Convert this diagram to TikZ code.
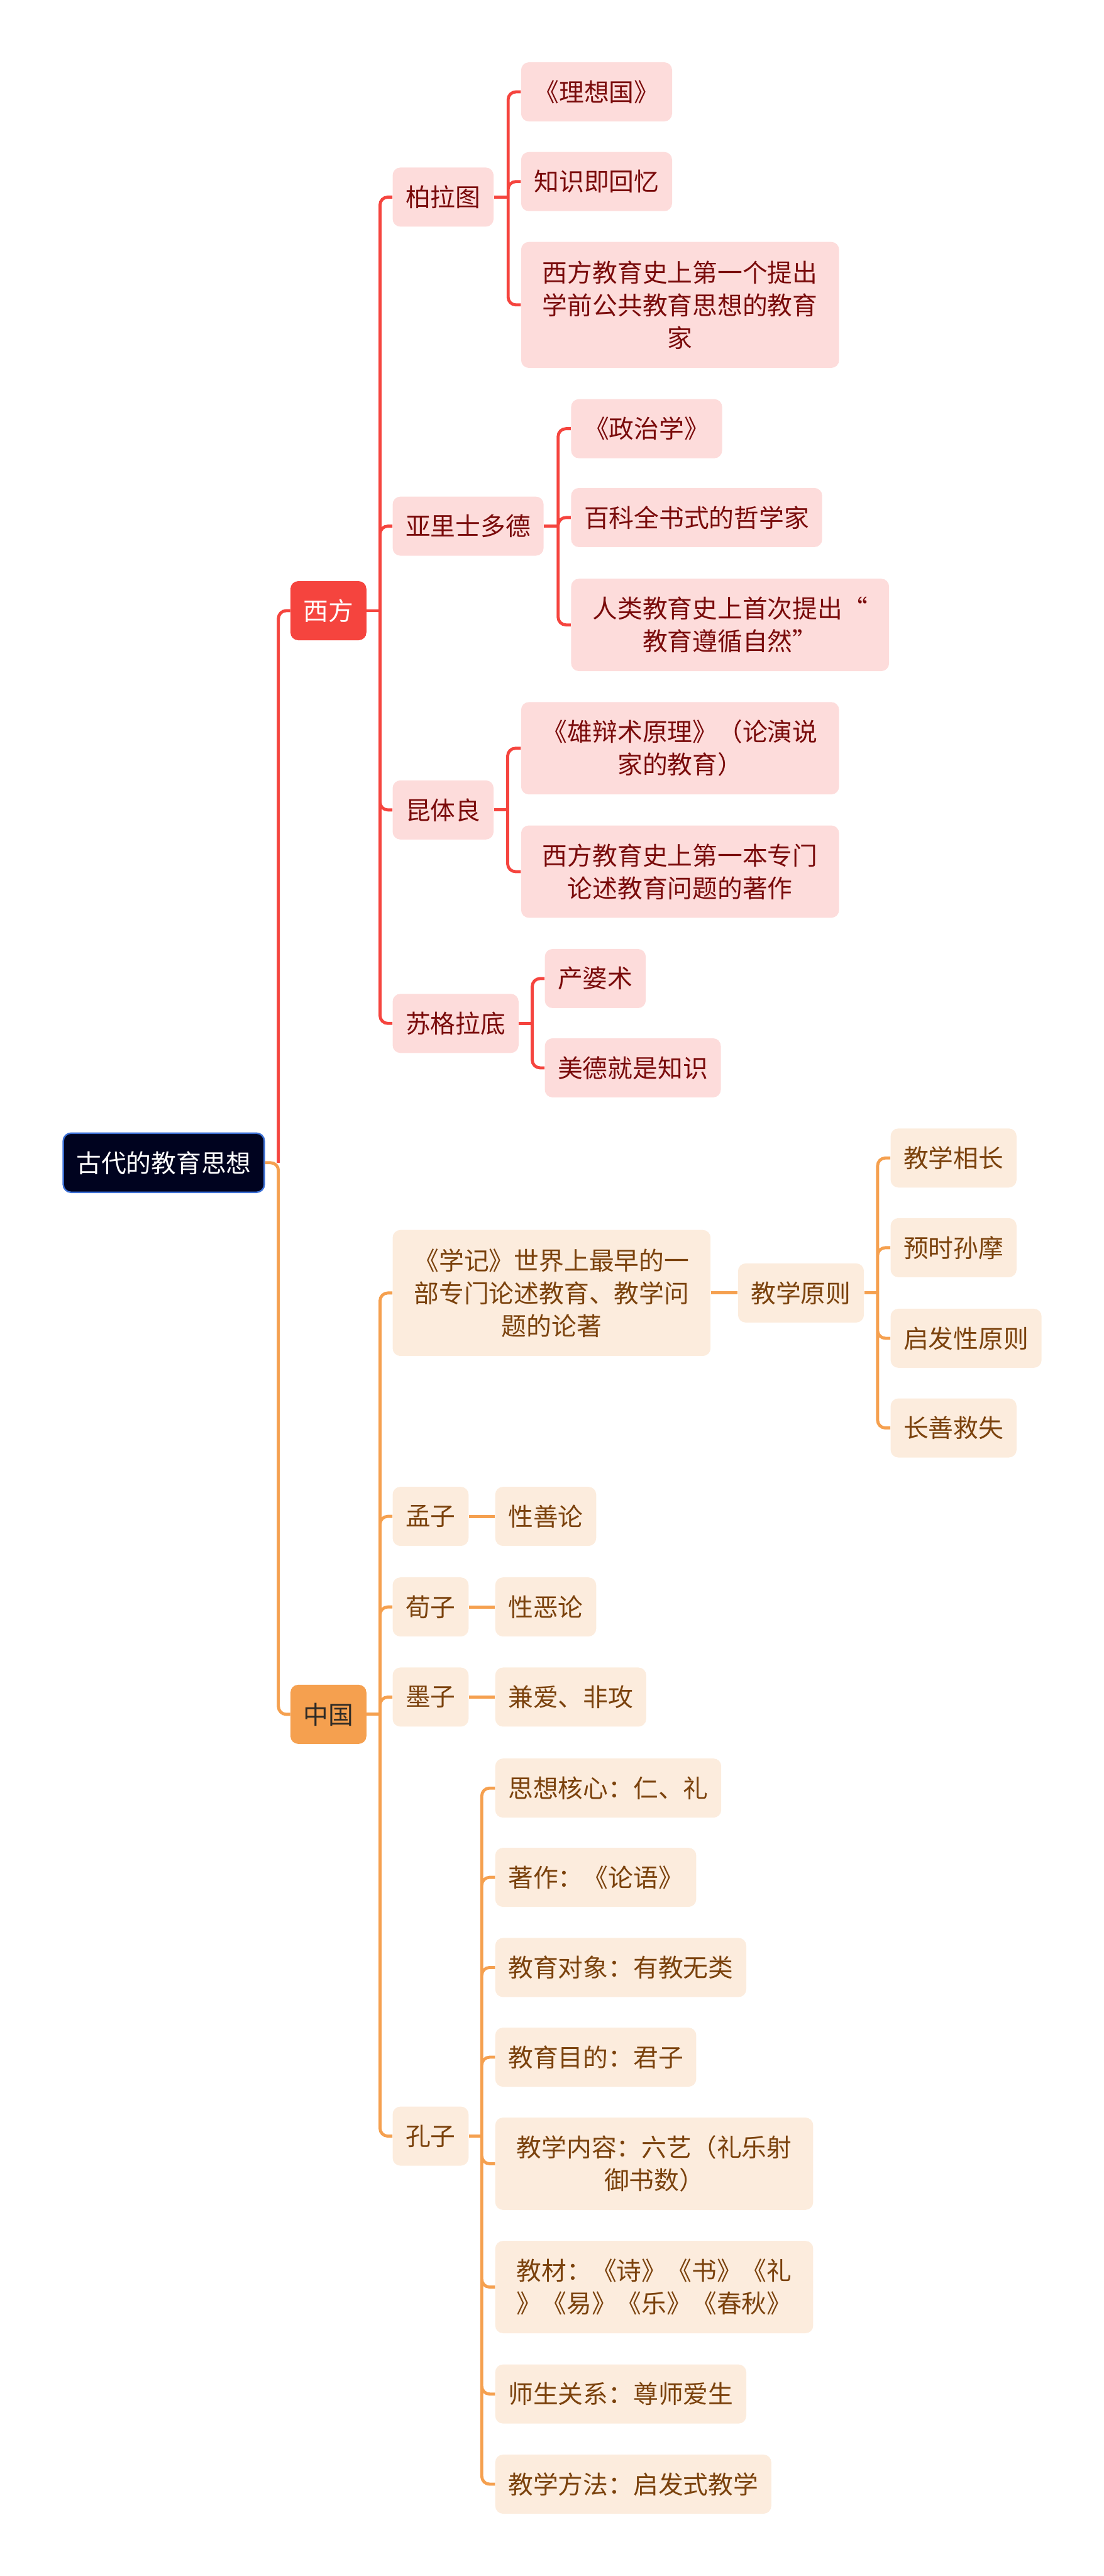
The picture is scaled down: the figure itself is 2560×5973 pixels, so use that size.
\documentclass[tikz,border=0pt]{standalone}
\usepackage{fontspec}
\setmainfont{Noto Sans CJK SC}
\usepackage{xcolor}
\usetikzlibrary{positioning}
\definecolor{rootblue}{HTML}{00031F}
\definecolor{rootedge}{HTML}{3B6FD4}
\definecolor{westred}{HTML}{F5443E}
\definecolor{westpink}{HTML}{FDDCDB}
\definecolor{westtext}{HTML}{7A0B0B}
\definecolor{eastorange}{HTML}{F5A04F}
\definecolor{eastpeach}{HTML}{FCECDD}
\definecolor{easttext}{HTML}{7B420D}
\definecolor{easthead}{HTML}{2D2A26}
\tikzstyle{redline} = [westred, line width=2pt, rounded corners=0.18cm]
\tikzstyle{orgline} = [eastorange, line width=2pt, rounded corners=0.18cm]

\begin{document}
\begin{tikzpicture}[x=0.01cm, y=-0.01cm,
		box/.style = {rounded corners=0.18cm, anchor=west, minimum height=1.37cm,
			inner xsep=0.3cm, inner ysep=0pt, font=\fontsize{16.5pt}{21.6pt}\selectfont},
		wbox/.style = {box, fill=westpink, text=westtext},
		cbox/.style = {box, fill=eastpeach, text=easttext},
		wide/.style = {align=center, minimum width=7.37cm},
		two/.style = {minimum height=2.14cm},
		three/.style = {minimum height=2.92cm}]

		\useasboundingbox (0,0) rectangle (2560,5973);

		% Root
		\node[box,fill=rootblue,draw=rootedge,line width=1pt,text=white] (root) at (145,2696) {古代的教育思想};

		% Main branches
		\node[box,fill=westred,text=white] (west) at (673,1416) {西方};
		\node[box,fill=eastorange,text=easthead] (china) at (673,3975) {中国};

		% Western thinkers
		\node[wbox] (plato) at (910,457) {柏拉图};
		\node[wbox] (arist) at (910,1220) {亚里士多德};
		\node[wbox] (quint) at (910,1878) {昆体良};
		\node[wbox] (socr) at (910,2373) {苏格拉底};

		\node[wbox] (ideal) at (1208,213) {《理想国》};
		\node[wbox] (recall) at (1208,421) {知识即回忆};
		\node[wbox,wide,three] (prek) at (1208,707) {西方教育史上第一个提出\\学前公共教育思想的教育\\家};

		\node[wbox] (polit) at (1324,994) {《政治学》};
		\node[wbox] (encyc) at (1324,1200) {百科全书式的哲学家};
		\node[wbox,wide,two] (nature) at (1324,1449) {人类教育史上首次提出“\\教育遵循自然”};

		\node[wbox,wide,two] (orator) at (1208,1735) {《雄辩术原理》（论演说\\家的教育）};
		\node[wbox,wide,two] (firstbk) at (1208,2021) {西方教育史上第一本专门\\论述教育问题的著作};

		\node[wbox] (midwife) at (1263,2269) {产婆术};
		\node[wbox] (virtue) at (1263,2476) {美德就是知识};

		% Chinese thinkers
		\node[cbox,wide,three] (xueji) at (910,2998) {《学记》世界上最早的一\\部专门论述教育、教学问\\题的论著};
		\node[cbox] (mencius) at (910,3516) {孟子};
		\node[cbox] (xunzi) at (910,3726) {荀子};
		\node[cbox] (mozi) at (910,3935) {墨子};
		\node[cbox] (confu) at (910,4953) {孔子};

		\node[cbox] (princ) at (1711,2998) {教学原则};
		\node[cbox] (mutual) at (2065,2685) {教学相长};
		\node[cbox] (timely) at (2065,2893) {预时孙摩};
		\node[cbox] (heur) at (2065,3103) {启发性原则};
		\node[cbox] (remedy) at (2065,3311) {长善救失};

		\node[cbox] (good) at (1148,3516) {性善论};
		\node[cbox] (evil) at (1148,3726) {性恶论};
		\node[cbox] (love) at (1148,3935) {兼爱、非攻};

		\node[cbox] (core) at (1148,4146) {思想核心：仁、礼};
		\node[cbox] (works) at (1148,4353) {著作：《论语》};
		\node[cbox] (target) at (1148,4562) {教育对象：有教无类};
		\node[cbox] (aim) at (1148,4770) {教育目的：君子};
		\node[cbox,wide,two] (content) at (1148,5017) {教学内容：六艺（礼乐射\\御书数）};
		\node[cbox,wide,two] (texts) at (1148,5303) {教材：《诗》《书》《礼\\》《易》《乐》《春秋》};
		\node[cbox] (teach) at (1148,5551) {师生关系：尊师爱生};
		\node[cbox] (method) at (1148,5760) {教学方法：启发式教学};

		% Root connectors
		\coordinate (rootT) at ([xshift=0.31cm]root.east);
		\draw[redline] (rootT) |- (west.west);
		\draw[orgline] (root.east) -- (rootT) |- (china.west);

		% West connectors
		\draw[redline] (west.east) -- ++(31,0) coordinate (westT);
		\draw[redline] (westT) |- (plato.west) (westT) |- (arist.west)
			(westT) |- (quint.west) (westT) |- (socr.west);

		\draw[redline] (plato.east) -- ++(33,0) coordinate (platoT);
		\draw[redline] (platoT) |- (ideal.west) (platoT) |- (recall.west) (platoT) |- (prek.west);

		\draw[redline] (arist.east) -- ++(33,0) coordinate (aristT);
		\draw[redline] (aristT) |- (polit.west) (aristT) |- (encyc.west) (aristT) |- (nature.west);

		\draw[redline] (quint.east) -- ++(32,0) coordinate (quintT);
		\draw[redline] (quintT) |- (orator.west) (quintT) |- (firstbk.west);

		\draw[redline] (socr.east) -- ++(31,0) coordinate (socrT);
		\draw[redline] (socrT) |- (midwife.west) (socrT) |- (virtue.west);

		% China connectors
		\draw[orgline] (china.east) -- ++(31,0) coordinate (chinaT);
		\draw[orgline] (chinaT) |- (xueji.west) (chinaT) |- (mencius.west)
			(chinaT) |- (xunzi.west) (chinaT) |- (mozi.west) (chinaT) |- (confu.west);

		\draw[orgline] (xueji.east) -- (princ.west);
		\draw[orgline] (princ.east) -- ++(31,0) coordinate (princT);
		\draw[orgline] (princT) |- (mutual.west) (princT) |- (timely.west)
			(princT) |- (heur.west) (princT) |- (remedy.west);

		\draw[orgline] (mencius.east) -- (good.west);
		\draw[orgline] (xunzi.east) -- (evil.west);
		\draw[orgline] (mozi.east) -- (love.west);

		\draw[orgline] (confu.east) -- ++(30,0) coordinate (confuT);
		\draw[orgline] (confuT) |- (core.west) (confuT) |- (works.west) (confuT) |- (target.west)
			(confuT) |- (aim.west) (confuT) |- (content.west) (confuT) |- (texts.west)
			(confuT) |- (teach.west) (confuT) |- (method.west);
\end{tikzpicture}
\end{document}
